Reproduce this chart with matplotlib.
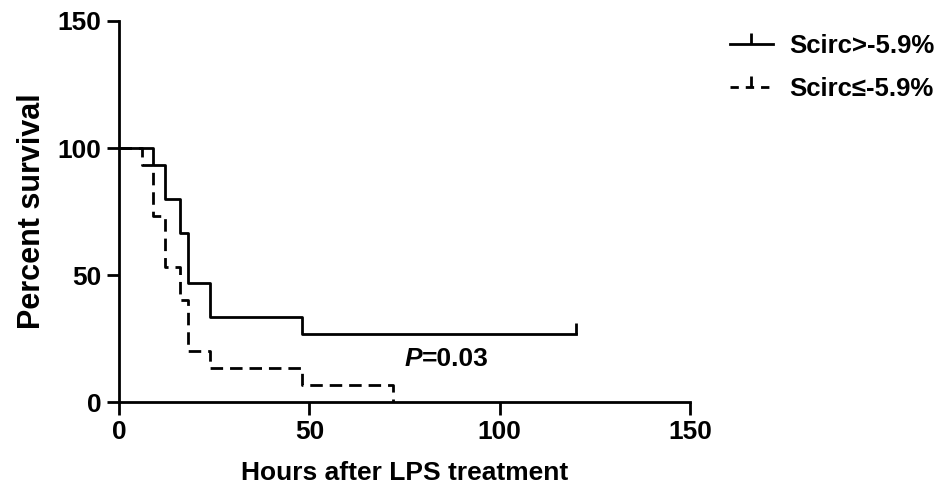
import matplotlib
matplotlib.use("Agg")
import matplotlib.pyplot as plt
from matplotlib.path import Path
from matplotlib.lines import Line2D

plt.rcParams['font.family'] = ['Liberation Sans', 'DejaVu Sans']
plt.rcParams['font.weight'] = 'bold'

# Kaplan-Meier steps
high_t = [0, 9, 12, 16, 18, 24, 48, 120]
high_s = [100, 93.3, 80, 66.7, 46.7, 33.3, 26.7, 26.7]
high_censor_t = [120]
high_censor_s = [26.7]

low_t = [0, 6, 9, 12, 16, 18, 24, 48, 72]
low_s = [100, 93.3, 73.3, 53.3, 40, 20, 13.3, 6.7, 0]

labels = ['Scirc>-5.9%', 'Scirc\u2264-5.9%']
p_text = '=0.03'

lw = 2.0
tick_up = Path([(0, 0), (0, 1)])

fig = plt.figure(figsize=(9.47, 4.86), dpi=100)
ax = fig.add_axes([0.1257, 0.1728, 0.6029, 0.784])

ax.step(high_t, high_s, where='post', color='black', lw=lw)
ax.plot(high_censor_t, high_censor_s, ls='none', marker=tick_up, ms=16,
        mew=lw, color='black')
ax.step(low_t, low_s, where='post', color='black', lw=lw, ls=(0, (4.5, 2.5)))

ax.text(75, 16.9, 'P', fontsize=19, fontweight='bold', style='italic', va='center')
ax.text(79.6, 16.9, p_text, fontsize=19, fontweight='bold', va='center')

ax.set_xlim(0, 150)
ax.set_ylim(0, 150)
ax.set_xticks([0, 50, 100, 150])
ax.set_yticks([0, 50, 100, 150])
for s in ['top', 'right']:
    ax.spines[s].set_visible(False)
for s in ['left', 'bottom']:
    ax.spines[s].set_linewidth(lw)
ax.tick_params(axis='both', width=lw, length=9, labelsize=19)
ax.tick_params(axis='x', pad=4)
ax.set_xlabel('Hours after LPS treatment', fontsize=19, fontweight='bold', labelpad=12)
ax.set_ylabel('Percent survival', fontsize=22, fontweight='bold', labelpad=8)

handles = [
    Line2D([], [], color='black', lw=lw, marker=tick_up, ms=16, mew=lw),
    Line2D([], [], color='black', lw=lw, ls=(0, (3, 2.5)), marker=tick_up, ms=16, mew=lw),
]
fig.legend(handles, labels, loc='upper left', bbox_to_anchor=(0.771, 0.93),
           frameon=False, handlelength=1.65, handletextpad=0.65,
           borderpad=0, borderaxespad=0, labelspacing=0.75,
           prop={'weight': 'bold', 'size': 18.5})

fig.savefig('out.png', dpi=100)
